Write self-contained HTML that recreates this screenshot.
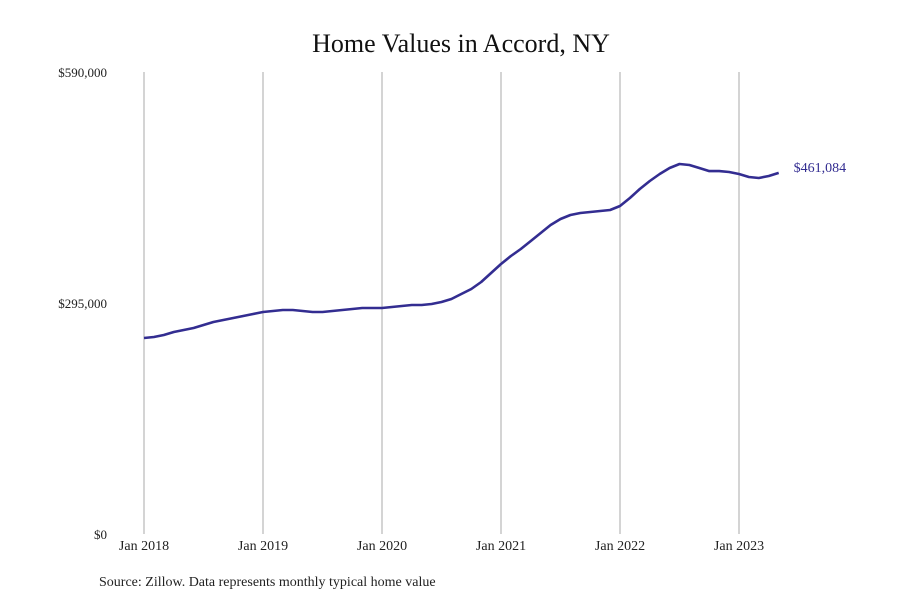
<!DOCTYPE html>
<html><head><meta charset="utf-8"><style>
body{margin:0;background:#fff;font-family:"Liberation Serif",serif;}
svg text{font-family:"Liberation Serif",serif;}
</style></head><body>
<svg width="900" height="600" viewBox="0 0 900 600">
<text x="461" y="52" text-anchor="middle" font-size="26" fill="#111">Home Values in Accord, NY</text>
<g id="grid"></g>
<g id="yaxis"></g>
<g id="xaxis"></g>
<path id="line" fill="none" stroke="#332d91" stroke-width="2.6" stroke-linejoin="round"/>
<text id="endlabel" font-size="14" fill="#332d91"></text>
<text x="99" y="586" font-size="14" fill="#222">Source: Zillow. Data represents monthly typical home value</text>
</svg>
<script>
const values=[250300,251600,254100,258000,260500,263100,266900,270700,273300,275800,278400,280900,
283500,284800,286000,286000,284800,283500,283500,284800,286000,287300,288600,288600,
288600,289900,291200,292400,292400,293700,296300,300100,306500,312900,321800,333300,
344800,355000,363900,374200,384400,394600,402300,407400,409900,411200,412500,413800,
418900,429100,440600,450800,459800,467400,472500,471200,467400,463500,463500,462300,
459800,455900,454600,457200,461084];
const yTicks=[0,295000,590000];
const yTickLabels=["$0","$295,000","$590,000"];
const xTickMonths=[0,12,24,36,48,60];
const xTickLabels=["Jan 2018","Jan 2019","Jan 2020","Jan 2021","Jan 2022","Jan 2023"];
const lastLabel="$461,084";
const NS="http://www.w3.org/2000/svg";
const x=m=>144+m*(739-144)/60;
const y=v=>534-v*(534-72)/590000;
const grid=document.getElementById('grid'),ya=document.getElementById('yaxis'),xa=document.getElementById('xaxis');
xTickMonths.forEach((m,i)=>{
 const l=document.createElementNS(NS,'line');
 
 
 l.setAttribute('x1',x(m));l.setAttribute('x2',x(m));l.setAttribute('y1',72);l.setAttribute('y2',534);
 l.setAttribute('stroke','#aaa');l.setAttribute('stroke-width','1');grid.appendChild(l);
 const t=document.createElementNS(NS,'text');
 
 
 t.setAttribute('x',x(m));t.setAttribute('y',550);t.setAttribute('text-anchor','middle');t.setAttribute('font-size','14');t.setAttribute('fill','#222');
 t.textContent=xTickLabels[i];xa.appendChild(t);
});
yTicks.forEach((v,i)=>{
 const t=document.createElementNS(NS,'text');
 
 
 t.setAttribute('x',107);t.setAttribute('y',y(v)+5);t.setAttribute('text-anchor','end');t.setAttribute('font-size','13');t.setAttribute('fill','#222');
 t.textContent=yTickLabels[i];ya.appendChild(t);
});
document.getElementById('line').setAttribute('d',values.map((v,i)=>(i?'L':'M')+x(i).toFixed(1)+','+y(v).toFixed(1)).join(''));
const n=values.length-1,el=document.getElementById('endlabel');
el.setAttribute('x',x(n)+15);el.setAttribute('y',y(values[n])-1);el.textContent=lastLabel;
</script>
</body></html>
